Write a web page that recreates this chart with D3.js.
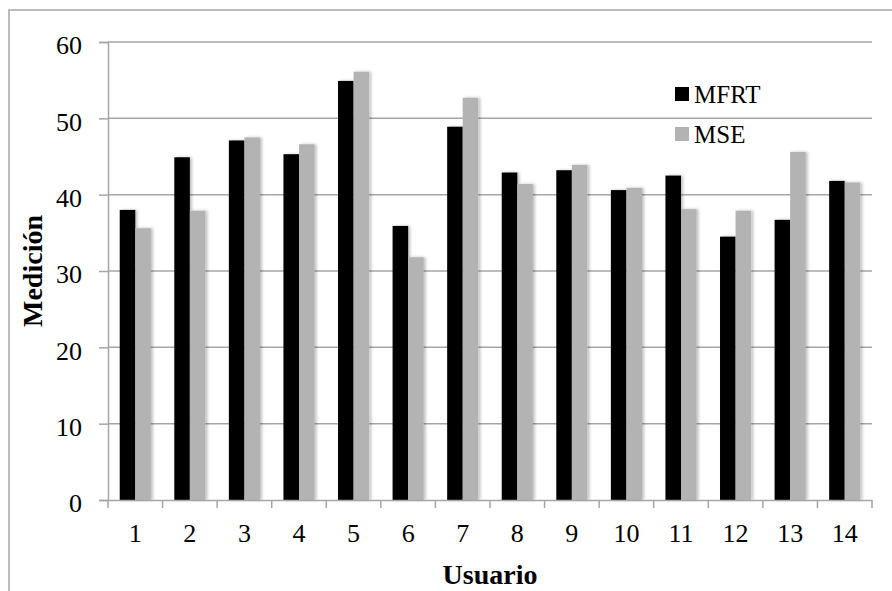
<!DOCTYPE html>
<html>
<head>
<meta charset="utf-8">
<script src="https://cdn.jsdelivr.net/npm/d3@7"></script>
<style>
  html, body { margin: 0; padding: 0; background: #fff; }
  svg { display: block; }
  text { font-family: "Liberation Serif", "DejaVu Serif", serif; fill: #000; }
</style>
</head>
<body>
<svg id="chart" width="892" height="591"></svg>
<script>
const categories = ["1","2","3","4","5","6","7","8","9","10","11","12","13","14"];
const seriesNames = ["MFRT", "MSE"];
const mfrt = [38.0, 44.9, 47.1, 45.3, 54.9, 35.9, 48.9, 42.9, 43.2, 40.6, 42.5, 34.5, 36.7, 41.8];
const mse  = [35.6, 37.9, 47.5, 46.6, 56.1, 31.8, 52.7, 41.4, 43.9, 40.9, 38.1, 37.9, 45.6, 41.6];
const yTicks = [0, 10, 20, 30, 40, 50, 60];
const xTitle = "Usuario";
const yTitle = "Medición";

const colors = ["#000000", "#b3b3b3"];
const svg = d3.select("#chart");

const mLeft = 108, mRight = 872, mTop = 42, mBottom = 500;

// outer frame
svg.append("rect").attr("x", 9).attr("y", 10).attr("width", 900).attr("height", 600)
  .attr("fill", "none").attr("stroke", "#a6a6a6").attr("stroke-width", 1.5);

const defs = svg.append("defs");
const f = defs.append("filter").attr("id", "shadow").attr("x", "-20%").attr("y", "-5%").attr("width", "160%").attr("height", "110%");
f.append("feDropShadow").attr("dx", 2).attr("dy", 0).attr("stdDeviation", 1.5)
  .attr("flood-color", "#000").attr("flood-opacity", 0.25);

const x = d3.scaleBand().domain(categories).range([mLeft, mRight]).paddingInner(0).paddingOuter(0);
const y = d3.scaleLinear().domain([0, 60]).range([mBottom, mTop]);
const groupW = x.bandwidth() * 0.57;
const x1 = d3.scaleBand().domain(seriesNames).range([(x.bandwidth() - groupW) / 2, (x.bandwidth() + groupW) / 2]);

// gridlines
svg.append("g").selectAll("line").data(yTicks.filter(d => d > 0)).join("line")
  .attr("x1", mLeft).attr("x2", mRight)
  .attr("y1", d => y(d)).attr("y2", d => y(d))
  .attr("stroke", "#a6a6a6").attr("stroke-width", 1.5);

// bars
const data = categories.map((c, i) => ({ c, vals: [mfrt[i], mse[i]] }));
const g = svg.append("g").attr("filter", "url(#shadow)");
data.forEach(d => {
  seriesNames.forEach((s, j) => {
    g.append("rect")
      .attr("x", x(d.c) + x1(s))
      .attr("width", x1.bandwidth())
      .attr("y", y(d.vals[j]))
      .attr("height", y(0) - y(d.vals[j]))
      .attr("fill", colors[j]);
  });
});

// y axis
const yAxis = d3.axisLeft(y).tickValues(yTicks).tickSize(9).tickPadding(17).tickFormat(d3.format("d"));
const ga = svg.append("g").attr("transform", `translate(${mLeft},0)`).call(yAxis);
ga.select(".domain").attr("stroke", "#a6a6a6").attr("stroke-width", 1.5);
ga.selectAll(".tick line").attr("stroke", "#a6a6a6").attr("stroke-width", 1.5);
ga.selectAll(".tick text").attr("font-size", 26).attr("font-family", "Liberation Serif").attr("dy", "0.45em");

// x axis
const xAxis = d3.axisBottom(x).tickSize(0).tickPadding(24);
const gx = svg.append("g").attr("transform", `translate(0,${mBottom})`).call(xAxis);
gx.select(".domain").attr("stroke", "#a6a6a6").attr("stroke-width", 1.5);
gx.selectAll(".tick text").attr("font-size", 26).attr("font-family", "Liberation Serif");
// boundary ticks
const bounds = categories.map(c => x(c)).concat([mRight]);
gx.append("g").selectAll("line").data(bounds).join("line")
  .attr("x1", d => d).attr("x2", d => d).attr("y1", 0).attr("y2", 8)
  .attr("stroke", "#a6a6a6").attr("stroke-width", 1.5);

// axis titles
svg.append("text").attr("x", (mLeft + mRight) / 2).attr("y", 584)
  .attr("text-anchor", "middle").attr("font-size", 28).attr("font-weight", "bold").text(xTitle);
svg.append("text").attr("transform", `translate(42,${(mTop + mBottom) / 2}) rotate(-90)`)
  .attr("text-anchor", "middle").attr("font-size", 28).attr("font-weight", "bold").text(yTitle);

// legend
const lg = svg.append("g");
seriesNames.forEach((s, i) => {
  const yy = 87 + i * 40;
  lg.append("rect").attr("x", 675).attr("y", yy).attr("width", 14).attr("height", 14).attr("fill", colors[i]);
  lg.append("text").attr("x", 694).attr("y", yy + 16).attr("font-size", 25).text(s);
});
</script>
</body>
</html>
